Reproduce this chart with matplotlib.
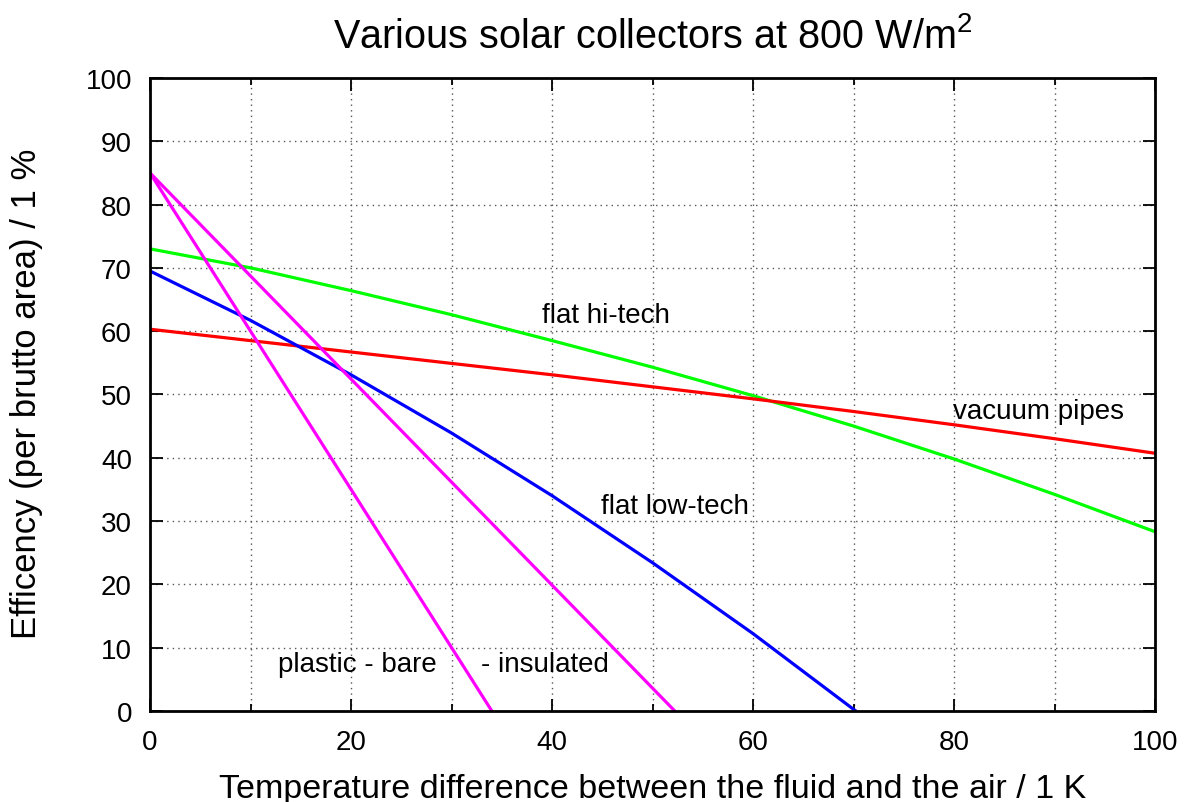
import matplotlib
matplotlib.use("Agg")
import matplotlib.pyplot as plt
from matplotlib.ticker import MultipleLocator

plt.rcParams['font.family'] = ['Liberation Sans', 'DejaVu Sans']
plt.rcParams['mathtext.fontset'] = 'custom'
plt.rcParams['mathtext.rm'] = 'Liberation Sans'
plt.rcParams['mathtext.it'] = 'Liberation Sans'

# data
x_grid = [0, 10, 20, 30, 40, 50, 60, 70, 80, 90, 100]
hitech = [73.0, 70.0, 66.4, 62.6, 58.5, 54.3, 49.8, 45.0, 39.8, 34.2, 28.3]
vacuum = [60.3, 58.5, 56.7, 54.9, 53.1, 51.2, 49.3, 47.3, 45.2, 43.0, 40.7]
lowtech_x = [0, 10, 20, 30, 40, 50, 60, 70.2]
lowtech = [69.5, 61.7, 53.1, 43.9, 34.0, 23.4, 12.2, 0.0]
bare_x = [0, 34.0]
bare = [85.0, 0.0]
insul_x = [0, 52.2]
insul = [85.0, 0.0]

labels = ["flat hi-tech", "vacuum pipes", "flat low-tech", "plastic - bare", "- insulated"]
label_pos = [(39.0, 62.5), (79.9, 47.4), (44.9, 32.3), (12.7, 7.4), (32.9, 7.4)]

W, H = 1192, 803
fig = plt.figure(figsize=(W / 100, H / 100), dpi=100)
ax = fig.add_axes([150 / W, (H - 711.8) / H, 1005 / W, 632.8 / H])

lw = 2.3
ax.plot(x_grid, hitech, color='#00ff00', lw=lw)
ax.plot(x_grid, vacuum, color='#ff0000', lw=lw)
ax.plot(lowtech_x, lowtech, color='#0000ff', lw=lw)
ax.plot(bare_x, bare, color='#ff00ff', lw=lw)
ax.plot(insul_x, insul, color='#ff00ff', lw=lw)

for t, (px, py) in zip(labels, label_pos):
    ax.text(px, py, t, fontsize=20, ha='left', va='center', color='black')

ax.set_xlim(0, 100)
ax.set_ylim(0, 100)
ax.xaxis.set_major_locator(MultipleLocator(20))
ax.xaxis.set_minor_locator(MultipleLocator(10))
ax.yaxis.set_major_locator(MultipleLocator(10))

ax.grid(True, which='both', axis='x', color='#555555', linestyle=(0, (1, 3)), lw=1)
ax.grid(True, which='major', axis='y', color='#555555', linestyle=(0, (1, 3)), lw=1)
ax.set_axisbelow(True)

ax.tick_params(axis='both', which='major', direction='in', length=9, width=1.3,
               top=True, right=True, labelsize=20, colors='black')
ax.tick_params(axis='y', which='major', pad=13)
ax.tick_params(axis='x', which='major', pad=13)
ax.tick_params(axis='both', which='minor', direction='in', length=5, width=1.3,
               top=True, right=True)
for s in ax.spines.values():
    s.set_linewidth(2)
    s.set_color('black')

fig.text(652.5 / W, 5 / H, "Temperature difference between the fluid and the air / 1 K",
         fontsize=24.5, ha='center', va='baseline')
fig.text(27 / W, 1 - 394 / H, "Efficency (per brutto area) / 1 %",
         fontsize=25, ha='center', va='center', rotation=90)
fig.text(652.5 / W, 1 - 48 / H, "Various solar collectors at 800 W/m$^2$",
         fontsize=28.5, ha='center', va='baseline')

fig.savefig("out.png", dpi=100)
